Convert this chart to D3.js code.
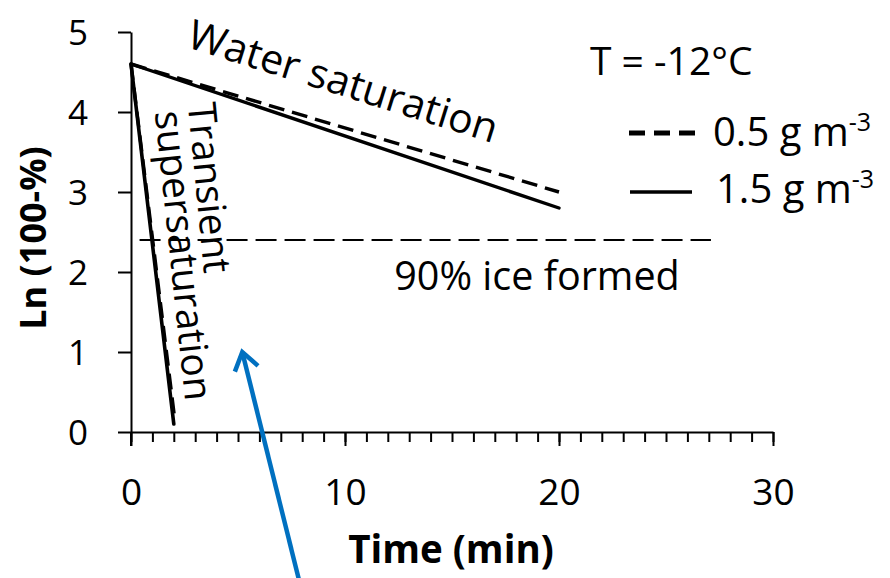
<!DOCTYPE html>
<html>
<head>
<meta charset="utf-8">
<script src="https://cdn.jsdelivr.net/npm/d3@7/dist/d3.min.js"></script>
<style>
  html, body { margin: 0; padding: 0; background: #ffffff; }
  svg { display: block; }
  text { font-family: "Open Sans", "Lato", sans-serif; fill: #000; }
</style>
</head>
<body>
<svg id="chart" width="890" height="578"></svg>
<script>
// ---- data ----
const saturationTime = [0, 20];
const saturation05 = [4.6, 3.0];   // 0.5 g m-3, water saturation branch
const saturation15 = [4.6, 2.8];   // 1.5 g m-3, water saturation branch
const transientTime05 = [0, 2.05];
const transient05 = [4.6, 0.15];   // 0.5 g m-3, transient supersaturation
const transientTime15 = [0, 2.0];
const transient15 = [4.6, 0.1];    // 1.5 g m-3, transient supersaturation
const iceLevel = 2.4;               // 90% ice formed
const iceLevelSpan = [0.4, 27.1];
const arrowFrom = [7.85, -1.85];
const arrowTo = [5.2, 1.0];
const xTicks = [0, 10, 20, 30];
const xMinorTicks = d3.range(0, 31, 1);
const yTicks = [0, 1, 2, 3, 4, 5];
const legendLabels = ["0.5 g m", "1.5 g m"];

// ---- layout ----
const svg = d3.select("#chart");
const x = d3.scaleLinear().domain([0, 30]).range([131, 773]);
const y = d3.scaleLinear().domain([0, 5]).range([432, 32]);

const line = d3.line().x(d => x(d[0])).y(d => y(d[1]));
const pairs = (xs, ys) => xs.map((v, i) => [v, ys[i]]);

// ---- axes ----
const xAxisG = svg.append("g").attr("transform", `translate(0,${y(0)})`);
xAxisG.call(d3.axisBottom(x).tickValues(xMinorTicks).tickSize(10).tickFormat(""))
  .call(g => g.select(".domain").remove())
  .call(g => g.selectAll(".tick line").attr("stroke", "#000").attr("stroke-width", 2));
xAxisG.append("g")
  .call(d3.axisBottom(x).tickValues(xTicks).tickFormat(d3.format("d"))
    .tickSize(14).tickPadding(0).tickSizeOuter(0))
  .call(g => g.select(".domain").attr("stroke", "#000").attr("stroke-width", 2))
  .call(g => g.selectAll(".tick line").attr("stroke", "#000").attr("stroke-width", 2))
  .call(g => g.selectAll(".tick text")
    .attr("y", 73).attr("dy", 0)
    .style("font-family", "'Open Sans', sans-serif")
    .style("font-size", "37px").attr("fill", "#000"));

const yAxisG = svg.append("g").attr("transform", `translate(${x(0)},0)`);
yAxisG.call(d3.axisLeft(y).tickValues(yTicks).tickFormat(d3.format("d"))
    .tickSize(13).tickPadding(0).tickSizeOuter(0))
  .call(g => g.select(".domain").attr("stroke", "#000").attr("stroke-width", 2))
  .call(g => g.selectAll(".tick line").attr("stroke", "#000").attr("stroke-width", 2))
  .call(g => g.selectAll(".tick text")
    .attr("x", -43).attr("dy", "0.36em")
    .style("font-family", "'Open Sans', sans-serif")
    .style("font-size", "35px").attr("fill", "#000"));

// axis line continues below the x axis
svg.append("line")
  .attr("x1", x(0)).attr("x2", x(0))
  .attr("y1", y(0)).attr("y2", y(0) + 14)
  .attr("stroke", "#000").attr("stroke-width", 2);

// axis titles
svg.append("text")
  .attr("x", (x(0) + x(30)) / 2 - 1).attr("y", 563)
  .attr("text-anchor", "middle")
  .style("font-size", "38.5px").style("font-weight", "bold")
  .text("Time (min)");

svg.append("text")
  .attr("transform", `translate(46,${238}) rotate(-90)`)
  .attr("text-anchor", "middle")
  .style("font-size", "36px").style("font-weight", "bold")
  .text("Ln (100-%)");

// ---- reference level: 90% ice formed ----
svg.append("line")
  .attr("x1", x(iceLevelSpan[0])).attr("x2", x(iceLevelSpan[1]))
  .attr("y1", y(iceLevel)).attr("y2", y(iceLevel))
  .attr("stroke", "#000").attr("stroke-width", 2)
  .attr("stroke-dasharray", "21,8");

// ---- curves ----
const dashed = "16,8";
svg.append("path").datum(pairs(saturationTime, saturation05))
  .attr("d", line).attr("fill", "none").attr("stroke", "#000")
  .attr("stroke-width", 3.4).attr("stroke-dasharray", dashed);
svg.append("path").datum(pairs(transientTime05, transient05))
  .attr("d", line).attr("fill", "none").attr("stroke", "#000")
  .attr("stroke-width", 3.4).attr("stroke-dasharray", dashed);
svg.append("path").datum(pairs(saturationTime, saturation15))
  .attr("d", line).attr("fill", "none").attr("stroke", "#000")
  .attr("stroke-width", 3.4).attr("stroke-linecap", "round");
svg.append("path").datum(pairs(transientTime15, transient15))
  .attr("d", line).attr("fill", "none").attr("stroke", "#000")
  .attr("stroke-width", 3.6).attr("stroke-linecap", "round");

// ---- annotations ----
svg.append("text")
  .attr("transform", `translate(339,95) rotate(17.4)`)
  .attr("text-anchor", "middle")
  .style("font-size", "41px")
  .text("Water saturation");

svg.append("text")
  .attr("transform", `translate(196,189) rotate(84.5)`)
  .attr("text-anchor", "middle")
  .style("font-size", "39px")
  .text("Transient");

svg.append("text")
  .attr("transform", `translate(170,257) rotate(84)`)
  .attr("text-anchor", "middle")
  .style("font-size", "39px")
  .text("supersaturation");

svg.append("text")
  .attr("x", 537).attr("y", 290)
  .attr("text-anchor", "middle")
  .style("font-size", "39.5px")
  .text("90% ice formed");

// ---- legend ----
svg.append("text")
  .attr("x", 590).attr("y", 75)
  .style("font-size", "39px")
  .text("T = -12°C");

svg.append("line")
  .attr("x1", 629).attr("x2", 695).attr("y1", 133).attr("y2", 133)
  .attr("stroke", "#000").attr("stroke-width", 5).attr("stroke-dasharray", "16,9");
svg.append("line")
  .attr("x1", 630).attr("x2", 692).attr("y1", 192).attr("y2", 192)
  .attr("stroke", "#000").attr("stroke-width", 3.5);

[[713, 146], [716, 203]].forEach((p, i) => {
  const t = svg.append("text")
    .attr("x", p[0]).attr("y", p[1])
    .style("font-size", "40px")
    .text(legendLabels[i]);
  t.append("tspan")
    .attr("dy", -15)
    .style("font-size", "25px")
    .text("-3");
});

// ---- arrow ----
const ax0 = x(arrowFrom[0]), ay0 = y(arrowFrom[1]);
const ax1 = x(arrowTo[0]), ay1 = y(arrowTo[1]);
const ang = Math.atan2(ay1 - ay0, ax1 - ax0);
const head = 21, spread = Math.PI / 5.2;
svg.append("line")
  .attr("x1", ax0).attr("y1", ay0).attr("x2", ax1).attr("y2", ay1)
  .attr("stroke", "#0070C0").attr("stroke-width", 4.5);
svg.append("path")
  .attr("d", `M${ax1 - head * Math.cos(ang - spread)},${ay1 - head * Math.sin(ang - spread)}` +
             `L${ax1},${ay1}` +
             `L${ax1 - head * Math.cos(ang + spread)},${ay1 - head * Math.sin(ang + spread)}`)
  .attr("fill", "none").attr("stroke", "#0070C0").attr("stroke-width", 4.5)
  .attr("stroke-linejoin", "miter");
</script>
</body>
</html>
